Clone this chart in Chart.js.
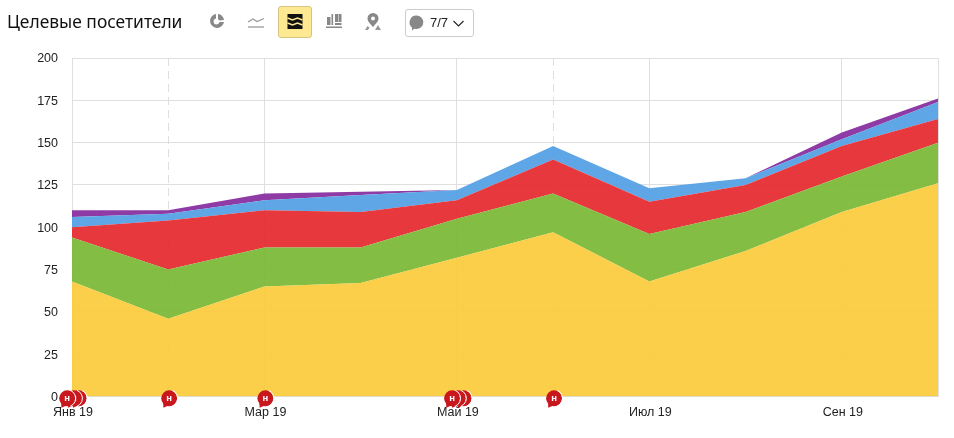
<!DOCTYPE html>
<html><head><meta charset="utf-8">
<style>
html,body{margin:0;padding:0;background:#fff;width:954px;height:438px;overflow:hidden}
#wrap{position:relative;width:954px;height:438px}
canvas{position:absolute;left:0;top:0}
.t{position:absolute;white-space:nowrap}
svg{position:absolute}
</style>
<script src="https://cdn.jsdelivr.net/npm/chart.js@4"></script>
</head><body>
<div id="wrap">
<canvas id="c" width="954" height="438"></canvas>
<div class="t" id="title" style="left:7px;top:9px;font:17.4px/24px 'Noto Sans',sans-serif;color:#111">Целевые посетители</div>
<svg style="left:207px;top:11px" width="20" height="20" viewBox="0 0 20 20"><path d="M9 3a7 7 0 1 0 8 8h-4.500a3 3 0 1 1-3.500-3.500z" fill="#888"/><path d="M11 3a6.500 6.500 0 0 1 6 6l-4.500 .5-1.500-1.500z" fill="#888"/></svg>
<svg style="left:246px;top:11px" width="20" height="20" viewBox="0 0 20 20" fill="none" stroke="#999" stroke-width="1.300"><path d="M2 11l5-3 4 2.500 7-3"/><path d="M2 16h16"/></svg>
<div style="position:absolute;left:278px;top:6px;width:32px;height:30px;background:#fde992;border:1px solid #d6c47f;border-radius:3px"></div>
<svg style="left:285px;top:11px" width="20" height="20" viewBox="0 0 20 20"><rect x="2.500" y="3" width="15" height="15" fill="#111"/><path d="M2.500 7.500l5 2 5-2 5 2M2.500 12.500l5 2 5-2 5 2" fill="none" stroke="#fde992" stroke-width="1.500" transform="translate(0,-.5)"/></svg>
<svg style="left:324px;top:11px" width="20" height="20" viewBox="0 0 20 20" fill="#888"><rect x="3" y="6" width="3.500" height="8"/><rect x="7.500" y="3" width="1.600" height="11"/><rect x="11" y="3" width="3" height="8"/><rect x="14.500" y="3" width="3" height="8"/><rect x="11" y="12" width="6.500" height="2"/><rect x="2" y="15.500" width="16" height="1.500"/></svg>
<svg style="left:363px;top:11px" width="20" height="20" viewBox="0 0 20 20"><path d="M10 2a5.500 5.500 0 0 0-5.500 5.500c0 3 3 5.500 5.500 8.500 2.500-3 5.500-5.500 5.500-8.500A5.500 5.500 0 0 0 10 2zm0 3.500a2 2 0 1 1 0 4 2 2 0 0 1 0-4z" fill="#888" fill-rule="evenodd"/><path d="M2 19l2.500-4 2 1.500L5 19zM12 19l3-5 3 5z" fill="#999"/></svg>
<div style="position:absolute;left:405px;top:9px;width:67px;height:26px;border:1px solid #ccc;border-radius:3px"></div>
<svg style="left:408px;top:14px" width="18" height="18" viewBox="0 0 18 18"><path d="M8.500 1.500a6.800 6.800 0 0 1 0 13.600c-.8 0-1.500-.1-2.200-.4L4 16.500v-3A6.800 6.800 0 0 1 8.500 1.500z" fill="#888"/></svg>
<div class="t" style="left:430px;top:14px;font:13px/17px 'Liberation Sans',sans-serif;color:#222">7/7</div>
<svg style="left:452px;top:19px" width="14" height="10" viewBox="0 0 14 10" fill="none" stroke="#222" stroke-width="1.100"><path d="M1.500 2l5 5 5-5"/></svg>
</div>
<script>
const categories = ['Янв 19','Фев 19','Мар 19','Апр 19','Май 19','Июн 19','Июл 19','Авг 19','Сен 19','Окт 19'];
const tickLabels = ['Янв 19','','Мар 19','','Май 19','','Июл 19','','Сен 19',''];
const seriesYellow = [68,46,65,67,82,97,68,86,109,126];
const seriesGreen  = [26,29,23,21,23,23,28,23,21,24];
const seriesRed    = [6,29,22,21,11,20,19,16,18,14];
const seriesBlue   = [6,4,6,10,6,8,8,4,4,10];
const seriesPurple = [4,2,4,2,0,0,0,0,4,2];
const dashedMonths = [1,5];
const hiddenMonths = [3,7];
// note markers, as positions on the category axis (drawn back to front)
const notePositions = [0.07,0.02,-0.05,1.01,2.01,4.07,4.01,3.95,5.01];
const noteLabel = 'н';

const markerPlugin = {
  id:'markers',
  afterDraw(chart){
    const {ctx,scales:{x,y}} = chart;
    const py = y.getPixelForValue(0)+1.8;
    notePositions.forEach(p=>{
      const px = x.getPixelForValue(p);
      ctx.save();
      ctx.fillStyle='#c9171e';
      ctx.strokeStyle='#fff';
      ctx.lineWidth=1;
      ctx.beginPath();
      ctx.arc(px,py,8,0,Math.PI*2);
      ctx.fill();
      ctx.beginPath();
      ctx.moveTo(px-6,py+4);
      ctx.lineTo(px-5.8,py+9.5);
      ctx.lineTo(px,py+7);
      ctx.closePath();
      ctx.fill();
      ctx.beginPath();
      ctx.arc(px,py,8.5,-1.2,1.2);
      ctx.stroke();
      ctx.fillStyle='#fff';
      ctx.font="bold 9.5px 'Liberation Sans',sans-serif";
      ctx.textAlign='center';ctx.textBaseline='middle';
      ctx.fillText(noteLabel,px,py);
      ctx.restore();
    });
  }
};

const mk=(label,data,color,fill)=>({label,data,backgroundColor:color,borderWidth:0,pointRadius:0,pointHoverRadius:0,tension:0,fill});
new Chart(document.getElementById('c'),{
  type:'line',
  data:{labels:categories,datasets:[
    mk('1',seriesYellow,'rgba(251,203,58,0.92)','origin'),
    mk('2',seriesGreen,'rgba(122,183,52,0.92)','-1'),
    mk('3',seriesRed,'rgba(230,44,50,0.94)','-1'),
    mk('4',seriesBlue,'rgba(84,160,228,0.94)','-1'),
    mk('5',seriesPurple,'rgba(136,48,160,0.95)','-1')
  ]},
  plugins:[markerPlugin],
  options:{
    responsive:false,animation:false,
    layout:{padding:{left:0,right:16,top:58,bottom:0}},
    plugins:{legend:{display:false},title:{display:false},tooltip:{enabled:false}},
    scales:{
      x:{
        type:'category',offset:false,
        afterFit(s){s.height=41.5;},
        ticks:{autoSkip:false,maxRotation:0,padding:9,labelOffset:1,color:'#222',font:{family:"'Liberation Sans',sans-serif",size:12.5},callback:(v,i)=>tickLabels[i]},
        grid:{drawTicks:false,color:c=>hiddenMonths.includes(c.index)?'rgba(0,0,0,0)':'#dfdfdf',lineWidth:1,z:0},
        border:{display:false,dash:c=>dashedMonths.includes(c.index)?[8,5]:[]}
      },
      y:{
        stacked:true,min:0,max:200,
        afterFit(s){s.width=72;},
        ticks:{stepSize:25,padding:14,labelOffset:1,color:'#222',font:{family:"'Liberation Sans',sans-serif",size:12.5}},
        grid:{drawTicks:false,color:'#dfdfdf',lineWidth:1},
        border:{display:false}
      }
    }
  }
});
</script>
</body></html>
